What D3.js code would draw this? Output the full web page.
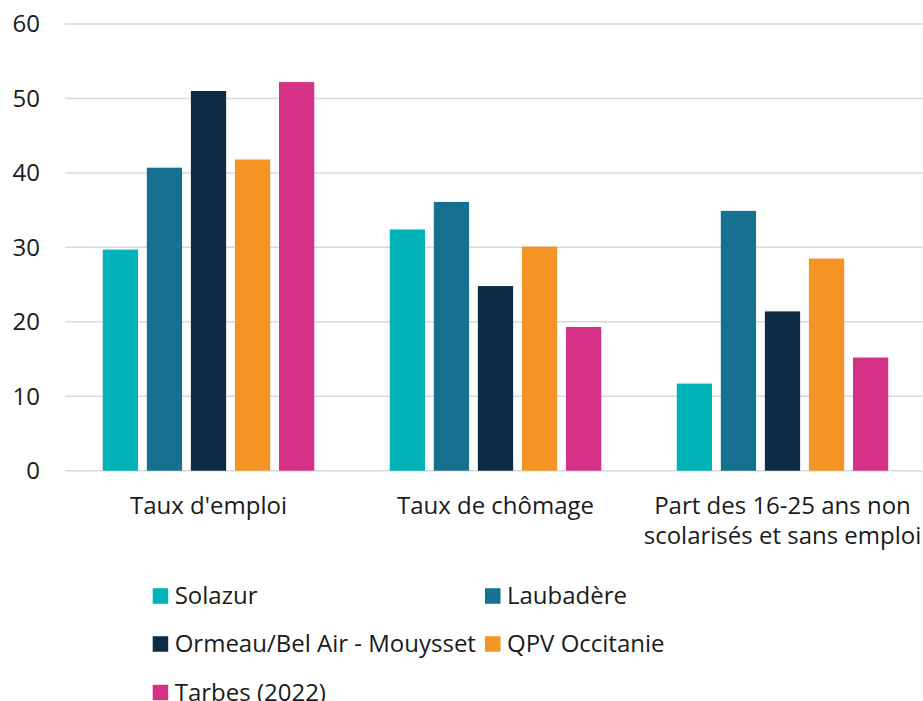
<!DOCTYPE html>
<meta charset="utf-8">
<style>
body { margin: 0; background: #fff; }
svg text { font-family: "Open Sans"; fill: #1a1a1a; }
.grid line { stroke: #d9d9d9; stroke-width: 1.5px; }
</style>
<body>
<svg id="chart" width="923" height="701"></svg>
<script src="https://d3js.org/d3.v7.min.js"></script>
<script>

var categories = ["Taux d'emploi", "Taux de chômage", "Part des 16-25 ans non|scolarisés et sans emploi"];
var series = ["Solazur", "Laubadère", "Ormeau/Bel Air - Mouysset", "QPV Occitanie", "Tarbes (2022)"];
var colors = ["#00b3b8", "#15718f", "#0f2a44", "#f39425", "#d53287"];
// one array per series, in category order
var solazur   = [29.7, 32.4, 11.7];
var laubadere = [40.7, 36.1, 34.9];
var ormeau    = [51.0, 24.8, 21.4];
var qpv       = [41.8, 30.1, 28.5];
var tarbes    = [52.2, 19.3, 15.2];
var yTicks = [0, 10, 20, 30, 40, 50, 60];

var values = [solazur, laubadere, ormeau, qpv, tarbes];

var svg = d3.select("#chart");

var y = d3.scaleLinear().domain([0, 60]).range([470.7, 24]);
var x0 = d3.scaleBand().domain(categories).range([65, 926]);
var groupW = 211.5;
var x1 = d3.scaleBand().domain(series).range([0, groupW]).paddingInner(0.2);

// gridlines
svg.append("g")
    .attr("class", "grid")
  .selectAll("line")
  .data(yTicks)
  .enter().append("line")
    .attr("x1", 65)
    .attr("x2", 923)
    .attr("y1", function(d) { return y(d); })
    .attr("y2", function(d) { return y(d); });

// y axis labels
svg.append("g")
  .selectAll("text")
  .data(yTicks)
  .enter().append("text")
    .attr("x", 40)
    .attr("y", function(d) { return y(d); })
    .attr("dy", "0.35em")
    .attr("text-anchor", "end")
    .style("font-size", "24px")
    .text(function(d) { return d; });

// bars
var group = svg.append("g")
  .selectAll("g")
  .data(categories)
  .enter().append("g")
    .attr("transform", function(d) {
      return "translate(" + (x0(d) + (x0.bandwidth() - groupW) / 2) + ",0)";
    });

group.selectAll("rect")
  .data(function(d, i) {
    return series.map(function(s, j) { return {s: s, v: values[j][i], c: colors[j]}; });
  })
  .enter().append("rect")
    .attr("x", function(d) { return x1(d.s); })
    .attr("width", x1.bandwidth())
    .attr("y", function(d) { return y(d.v); })
    .attr("height", function(d) { return y(0) - y(d.v); })
    .attr("fill", function(d) { return d.c; });

// category labels (| splits lines)
svg.append("g")
  .selectAll("text")
  .data(categories)
  .enter().append("text")
    .attr("text-anchor", "middle")
    .attr("x", function(d) { return x0(d) + x0.bandwidth() / 2; })
    .attr("y", 514)
    .style("font-size", "24px")
    .each(function(d) {
      var t = d3.select(this);
      d.split("|").forEach(function(line, i) {
        t.append("tspan")
          .attr("x", t.attr("x"))
          .attr("dy", i === 0 ? 0 : 30)
          .text(line);
      });
    });

// legend
var legendPos = [[152.7, 596], [485, 596], [152.7, 644], [485, 644], [152.7, 692.5]];
var legend = svg.append("g")
  .selectAll("g")
  .data(series)
  .enter().append("g")
    .attr("transform", function(d, i) { return "translate(" + legendPos[i][0] + "," + legendPos[i][1] + ")"; });

legend.append("rect")
    .attr("x", 0)
    .attr("y", -7.75)
    .attr("width", 15.5)
    .attr("height", 15.5)
    .attr("fill", function(d, i) { return colors[i]; });

legend.append("text")
    .attr("x", 22)
    .attr("dy", "0.35em")
    .style("font-size", "24px")
    .text(function(d) { return d; });

</script>
</body>
